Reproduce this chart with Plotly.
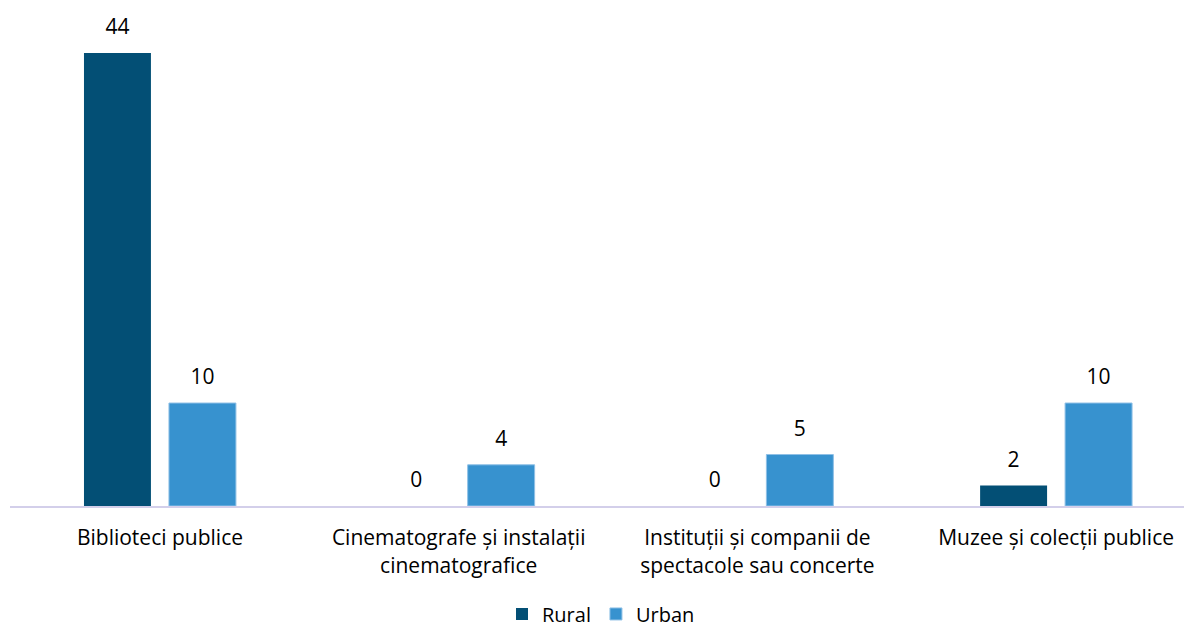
import plotly.graph_objects as go

categories = ["Biblioteci publice",
              "Cinematografe și instalații<br>cinematografice",
              "Instituții și companii de<br>spectacole sau concerte",
              "Muzee și colecții publice"]
rural = [44, 0, 0, 2]
urban = [10, 4, 5, 10]

FONT = "Open Sans"
FS = 21
series = [("Rural", rural, "#034f75", 0, None), ("Urban", urban, "#3792cf", 1, "#8fc0e6")]

fig = go.Figure()
for name, vals, col, g, edge in series:
    fig.add_trace(go.Bar(name=name, x=categories, y=vals, offsetgroup=str(g),
                         marker=dict(color=col, line=dict(width=1 if edge else 0, color=edge or col))))
for name, vals, col, g, edge in series:
    fig.add_trace(go.Scatter(x=categories, y=vals, text=vals, mode="markers+text",
                             offsetgroup=str(g), textposition="top center",
                             marker=dict(size=20, opacity=0), cliponaxis=False,
                             showlegend=False, hoverinfo="skip",
                             textfont=dict(size=FS, color="#000000", family=FONT)))

fig.update_layout(
    width=1184, height=620,
    barmode="group", bargap=0.431, bargroupgap=0.212,
    scattermode="group", scattergap=0.431,
    plot_bgcolor="white", paper_bgcolor="white",
    margin=dict(l=2, r=0, t=12, b=122, autoexpand=False),
    font=dict(family=FONT, size=FS, color="#000000"),
    showlegend=True,
    legend=dict(orientation="h", x=0.5, xanchor="center", y=-0.182, yanchor="top",
                font=dict(size=20, family=FONT), itemwidth=30, traceorder="normal",
                tracegroupgap=0),
    xaxis=dict(range=[-0.502, 3.455], showline=True, linecolor="#d3cfea", linewidth=2,
               ticks="", showgrid=False, tickfont=dict(size=FS, family=FONT),
               ticklabelstandoff=12, automargin=False),
    yaxis=dict(range=[0, 47.2], visible=False, showgrid=False, zeroline=False, automargin=False),
)
fig.write_html("out.html")
